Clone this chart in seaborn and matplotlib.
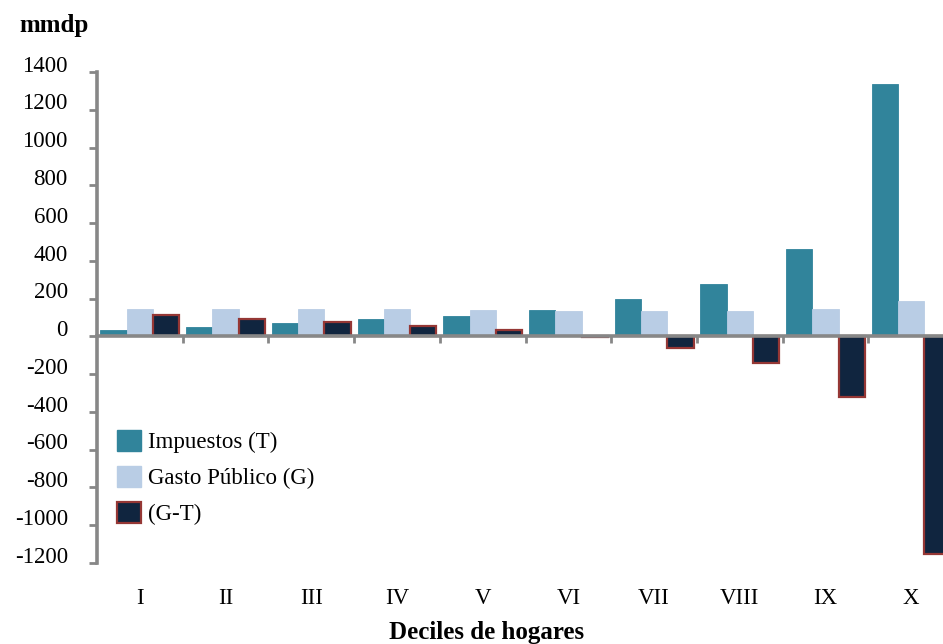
import numpy as np
import pandas as pd
import matplotlib
matplotlib.use("Agg")
import matplotlib.pyplot as plt
from matplotlib.patches import Patch
from matplotlib.transforms import ScaledTranslation
import seaborn as sns

# Household deciles and fiscal flows (miles de millones de pesos)
deciles = ["I", "II", "III", "IV", "V", "VI", "VII", "VIII", "IX", "X"]
impuestos = [35, 52, 70, 91, 108, 140, 198, 277, 463, 1337]
gasto = [146, 146, 145, 145, 140, 136, 137, 135, 143, 185]
balance = [111, 94, 75, 54, 32, -4, -61, -142, -320, -1152]
series_names = ["Impuestos (T)", "Gasto Público (G)", "(G-T)"]
y_ticks = list(range(-1200, 1401, 200))

df = pd.DataFrame({
    "decil": deciles * 3,
    "serie": np.repeat(series_names, len(deciles)),
    "mmdp": impuestos + gasto + balance,
})

sns.set_theme(style="white")
plt.rcParams["font.family"] = ["Liberation Serif", "DejaVu Serif"]
plt.rcParams.update({"text.color": "black", "axes.labelcolor": "black",
                     "xtick.color": "black", "ytick.color": "black"})

TEAL = "#31849B"
PALE = "#B9CDE5"
NAVY = "#10253F"
RED = "#953735"
GREY = "#878787"
FS = 16.5

fig = plt.figure(figsize=(9.43, 6.44), dpi=100)
ax = fig.add_axes([0.1029, 0.1258, 0.9088, 0.7624])

palette = {series_names[0]: TEAL, series_names[1]: PALE, series_names[2]: NAVY}
sns.barplot(data=df, x="decil", y="mmdp", hue="serie", hue_order=series_names,
            order=deciles, palette=palette, width=0.92, gap=0, saturation=1,
            errorbar=None, legend=False, ax=ax)

for cont, col in zip(ax.containers, [TEAL, PALE, NAVY]):
    for bar in cont:
        bar.set_edgecolor(col)
        bar.set_linewidth(0.6)
for bar in ax.containers[2]:
    bar.set_edgecolor(RED)
    bar.set_linewidth(1.6)

ax.set_xlim(-0.5, 9.5)
ax.set_ylim(-1200, 1400)
ax.set_yticks(y_ticks)
ax.set_yticklabels([str(v) for v in y_ticks], fontsize=FS)

# Category boundary marks on the zero line
ax.set_xticks([i + 0.5 for i in range(len(deciles))])
ax.set_xticklabels([])
ax.tick_params(axis="x", direction="out", length=5, width=2, color=GREY, bottom=True)
ax.tick_params(axis="y", direction="out", length=6, width=2, color=GREY, left=True,
               pad=15, labelcolor="black")

# value labels sit slightly above their tick marks
lift = ScaledTranslation(0, 6 / 72, fig.dpi_scale_trans)
for tick in ax.yaxis.get_major_ticks():
    tick.label1.set_transform(tick.label1.get_transform() + lift)

for s in ["top", "right"]:
    ax.spines[s].set_visible(False)
ax.spines["left"].set_color(GREY)
ax.spines["left"].set_linewidth(2.6)
ax.spines["bottom"].set_color(GREY)
ax.spines["bottom"].set_linewidth(2.6)
ax.spines["bottom"].set_position(("data", 0))
ax.spines["bottom"].set_zorder(5)

# Decile names below the plotting area
sec = ax.secondary_xaxis(location=0)
sec.set_xticks(range(len(deciles)))
sec.set_xticklabels(deciles, fontsize=FS, color="black")
sec.tick_params(length=0, pad=18)
sec.spines["bottom"].set_visible(False)

ax.set_xlabel("Deciles de hogares", fontsize=18, fontweight="bold", color="black")
ax.xaxis.set_label_coords(0.455, -0.1406)
ax.xaxis.label.set_va("center")
ax.xaxis.label.set_ha("center")

ax.set_ylabel("mmdp", fontsize=18, fontweight="bold", rotation=0, color="black")
ax.yaxis.set_label_coords(-0.05, 1.094)
ax.yaxis.label.set_va("center")
ax.yaxis.label.set_ha("center")

handles = [Patch(facecolor=TEAL, edgecolor=TEAL),
           Patch(facecolor=PALE, edgecolor=PALE),
           Patch(facecolor=NAVY, edgecolor=RED, linewidth=1.6)]
leg = ax.legend(handles, series_names, loc="upper left", bbox_to_anchor=(0.124, 0.333),
                bbox_transform=fig.transFigure, frameon=False, fontsize=FS,
                handlelength=1.05, handleheight=1.05, handletextpad=0.3,
                labelspacing=0.55, borderpad=0, borderaxespad=0)
for t in leg.get_texts():
    t.set_color("black")

fig.savefig("out.png", dpi=100)
